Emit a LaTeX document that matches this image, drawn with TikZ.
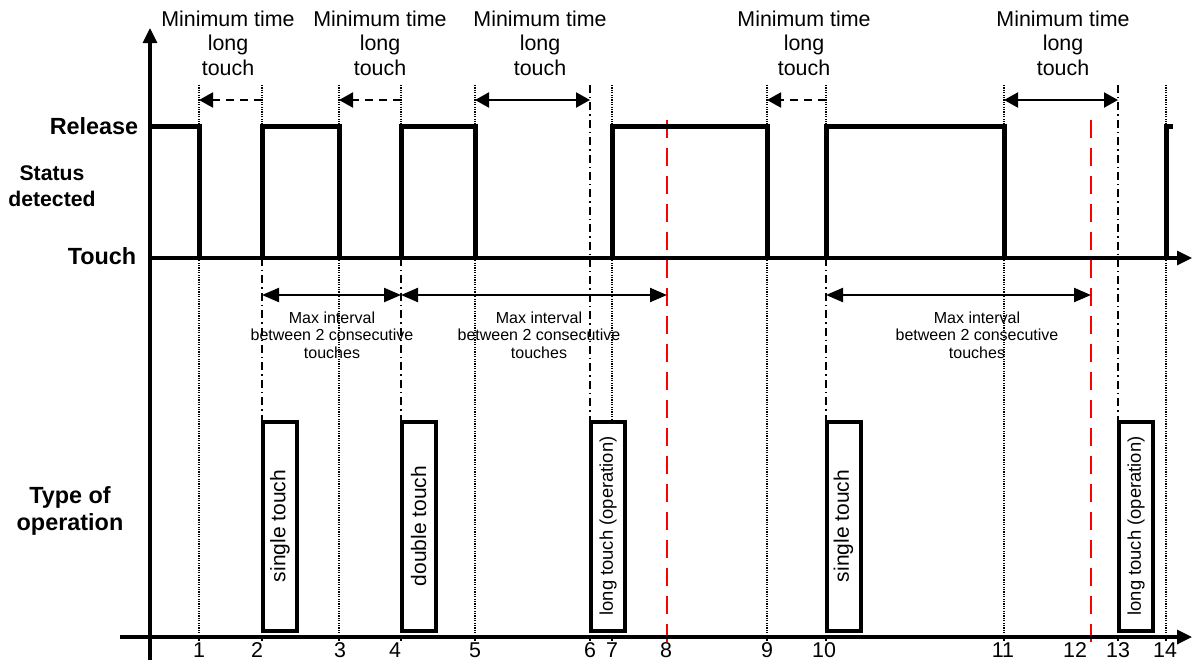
\documentclass[tikz,border=0pt]{standalone}
\usepackage{fontspec}
\setmainfont{Liberation Sans}
\usetikzlibrary{arrows.meta}

\tikzset{
  wave/.style={line width=2.5pt},
  axisline/.style={line width=1.6pt, -{Triangle[length=7.5pt,width=7pt]}},
  dotguide/.style={line width=0.6pt, dash pattern=on 0.6pt off 0.6pt},
  dashdotguide/.style={line width=0.7pt, dash pattern=on 4pt off 2pt on 0.7pt off 2pt},
  limitline/.style={red, line width=1.3pt, dash pattern=on 9pt off 5pt},
  minspan/.style={line width=1pt, {Triangle[length=7pt,width=7.5pt]}-{Triangle[length=7pt,width=7.5pt]}},
  minback/.style={line width=1pt, dash pattern=on 4pt off 3pt, -{Triangle[length=7pt,width=7.5pt]}},
  maxspan/.style={line width=1.1pt, {Triangle[length=8.5pt,width=7pt]}-{Triangle[length=8.5pt,width=7pt]}},
  toplabel/.style={align=center, font=\fontsize{10.7}{12.25}\selectfont},
  maxlabel/.style={align=center, font=\fontsize{8}{8.75}\selectfont},
  sidelabel/.style={align=center, font=\fontsize{11.7}{13.5}\selectfont\bfseries},
  optbox/.style={draw, fill=white, line width=2pt, rotate=90, minimum width=104.5pt,
    minimum height=17pt, inner sep=0pt, font=\fontsize{10.5}{12}\selectfont},
  longbox/.style={optbox, font=\fontsize{9.2}{11}\selectfont},
}

\begin{document}
\begin{tikzpicture}[x=0.5pt, y=-0.5pt]
        \useasboundingbox (0,0) rectangle (1192,660);

        % Guide lines at the edges
        \foreach \x in {199,339,475,612,767,1004,1166} {
                \draw[dotguide] (\x,85) -- (\x,641);
            }
        \foreach \x in {262,401,826} {
                \draw[dotguide] (\x,85) -- (\x,126);
                \draw[dashdotguide] (\x,258) -- (\x,421);
                \draw[line width=0.7pt] (\x,637) -- (\x,641);
            }
        \foreach \x in {590,1118} {
                \draw[dashdotguide] (\x,85) -- (\x,421);
                \draw[line width=0.7pt] (\x,637) -- (\x,641);
            }

        % End of max interval
        \draw[limitline] (667,120) -- (667,643);
        \draw[limitline] (1091,120) -- (1091,643);

        % Axes
        \draw[axisline] (150,660) -- (150,28);
        \draw[axisline] (150,258) -- (1192,258);
        \draw[axisline] (120,637) -- (1192,637);

        % Status detected
        \draw[wave] (150,126) -| (199,258);
        \draw[wave] (262,258) |- (339,126) -- (339,258);
        \draw[wave] (401,258) |- (475,126) -- (475,258);
        \draw[wave] (612,258) |- (767,126) -- (767,258);
        \draw[wave] (826,258) |- (1004,126) -- (1004,258);
        \draw[wave] (1166,258) |- (1173,126);

        \node[sidelabel] (release) at (94,126) {Release};
        \node[sidelabel] (touch) at (102,256) {Touch};
        \node[sidelabel, font=\fontsize{10.6}{13}\selectfont\bfseries] (status) at (52,186) {Status\\detected};
        \node[sidelabel] (type) at (70,511) {Type of\\operation};

        % Minimum time long touch
        \draw[minback] (262,100) -- (199,100);
        \draw[minback] (401,100) -- (339,100);
        \draw[minspan] (475,100) -- (590,100);
        \draw[minback] (826,100) -- (767,100);
        \draw[minspan] (1004,100) -- (1118,100);
        \node[toplabel] (min1) at (228,43) {Minimum time\\long\\touch};
        \node[toplabel] (min2) at (380,43) {Minimum time\\long\\touch};
        \node[toplabel] (min3) at (540,43) {Minimum time\\long\\touch};
        \node[toplabel] (min4) at (804,43) {Minimum time\\long\\touch};
        \node[toplabel] (min5) at (1063,43) {Minimum time\\long\\touch};

        % Max interval between touches
        \draw[maxspan] (262,295) -- (401,295);
        \draw[maxspan] (401,295) -- (667,295);
        \draw[maxspan] (826,295) -- (1091,295);
        \node[maxlabel] (max1) at (332,335) {Max interval\\between 2 consecutive\\touches};
        \node[maxlabel] (max2) at (539,335) {Max interval\\between 2 consecutive\\touches};
        \node[maxlabel] (max3) at (977,335) {Max interval\\between 2 consecutive\\touches};

        % Type of operation
        \node[optbox] (op1) at (280,526) {single touch};
        \node[optbox] (op2) at (418.5,526) {double touch};
        \node[longbox] (op3) at (608,526) {long touch (operation)};
        \node[optbox] (op4) at (843.5,526) {single touch};
        \node[longbox] (op5) at (1136,526) {long touch (operation)};

        % Time marks
        \foreach \x/\n in {199/1,257/2,340/3,395/4,475/5,590/6,612/7,666/8,767/9,824/10,1003/11,1075/12,1118/13,1165/14} {
                \node[font=\fontsize{10.7}{12}\selectfont, inner sep=0pt] (t\n) at (\x,650.5) {\n};
            }
    \end{tikzpicture}
\end{document}
